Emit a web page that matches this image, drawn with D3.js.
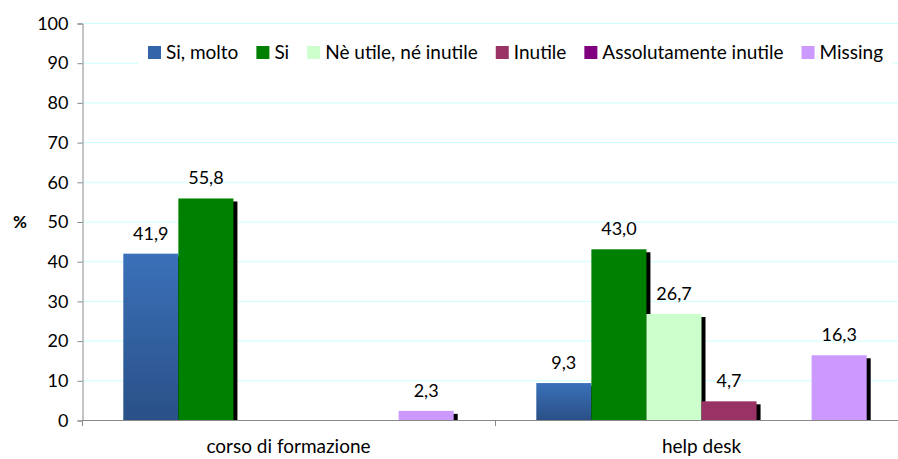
<!DOCTYPE html>
<html>
<head>
    <meta charset="utf-8">
    <title>Utilità: corso di formazione / help desk</title>
    <script src="https://d3js.org/d3.v7.min.js"></script>
    <style>
        body { margin: 0; background: #fff; }
        text { font-family: Lato, "Open Sans", sans-serif; fill: #000; }
    </style>
</head>
<body>
<svg width="898" height="459"></svg>
<script>
    // dati
    var categorie = ["corso di formazione", "help desk"];
    var serie = ["Si, molto", "Si", "Nè utile, né inutile", "Inutile", "Assolutamente inutile", "Missing"];
    var coloriSerie = ["url(#gradBlu)", "#008000", "#ccffcc", "#993366", "#800080", "#cc99ff"];
    var coloriLegenda = ["#3366a8", "#008000", "#ccffcc", "#993366", "#800080", "#cc99ff"];
    // valori per categoria (null = nessuna barra / etichetta)
    var valoriCorso = [41.9, 55.8, null, null, null, 2.3];
    var valoriHelpDesk = [9.3, 43.0, 26.7, 4.7, null, 16.3];
    var tickY = [0, 10, 20, 30, 40, 50, 60, 70, 80, 90, 100];

    var valori = [valoriCorso, valoriHelpDesk];

    var svg = d3.select("svg");
    var margine = { sinistro: 82, superiore: 23, inferiore: 420 };

    var defs = svg.append("defs");
    var g = defs.append("linearGradient").attr("id", "gradBlu")
        .attr("x1", 0).attr("y1", 0).attr("x2", 0).attr("y2", 1);
    g.append("stop").attr("offset", "0%").attr("stop-color", "#3a71b9");
    g.append("stop").attr("offset", "100%").attr("stop-color", "#2a5087");

    var scalaY = d3.scaleLinear().domain([0, 100]).range([margine.inferiore, margine.superiore]);
    var scalaX = d3.scaleBand().domain(categorie).range([margine.sinistro, 908]).padding(0);
    var scalaSerie = d3.scaleBand().domain(serie).range([0, scalaX.bandwidth()])
        .paddingInner(0).paddingOuter(0.75);

    // griglia
    svg.append("g").selectAll("line")
        .data(tickY.filter(function (d) { return d > 0; }))
        .enter().append("line")
        .attr("x1", margine.sinistro).attr("x2", 898)
        .attr("y1", function (d) { return scalaY(d) + 0.5; })
        .attr("y2", function (d) { return scalaY(d) + 0.5; })
        .attr("stroke", "#ccffff").attr("stroke-width", 1);

    // asse Y
    var asseY = svg.append("g")
        .attr("transform", "translate(" + (margine.sinistro + 0.5) + ",0.5)")
        .call(d3.axisLeft(scalaY).tickValues(tickY).tickSize(5).tickPadding(9));
    asseY.select(".domain").attr("stroke", "#888");
    asseY.selectAll(".tick line").attr("stroke", "#888");
    asseY.selectAll(".tick text").style("font-size", "18px").style("font-family", "Lato, sans-serif");

    svg.append("text")
        .attr("x", 20).attr("y", 228)
        .attr("text-anchor", "middle")
        .style("font-size", "17px").style("font-weight", "bold")
        .text("%");

    // barre
    var gruppi = svg.append("g").selectAll("g")
        .data(categorie)
        .enter().append("g")
        .attr("transform", function (d) { return "translate(" + scalaX(d) + ",0)"; });

    gruppi.each(function (cat, ci) {
        var gg = d3.select(this);
        var dati = serie.map(function (s, i) { return { serie: s, valore: valori[ci][i], i: i }; })
            .filter(function (d) { return d.valore !== null; });
        var w = scalaSerie.bandwidth();
        dati.forEach(function (d) {
            var x = scalaSerie(d.serie);
            var y = scalaY(d.valore);
            // ombra
            gg.append("rect")
                .attr("x", x + 4).attr("y", y + 3)
                .attr("width", w).attr("height", Math.max(0, margine.inferiore - y - 2))
                .attr("fill", "#000");
            gg.append("rect")
                .attr("x", x).attr("y", y)
                .attr("width", w).attr("height", margine.inferiore - y)
                .attr("fill", coloriSerie[d.i]);
        });
        dati.forEach(function (d) {
            gg.append("text")
                .attr("x", scalaSerie(d.serie) + scalaSerie.bandwidth() / 2)
                .attr("y", scalaY(d.valore) - 14)
                .attr("text-anchor", "middle")
                .style("font-size", "18px")
                .text(d.valore.toFixed(1).replace(".", ","));
        });
    });

    // asse X
    svg.append("line")
        .attr("x1", margine.sinistro).attr("x2", 898)
        .attr("y1", margine.inferiore + 0.5).attr("y2", margine.inferiore + 0.5)
        .attr("stroke", "#888");
    svg.append("g").selectAll("line")
        .data(categorie)
        .enter().append("line")
        .attr("x1", function (d) { return Math.round(scalaX(d)) + 0.5; })
        .attr("x2", function (d) { return Math.round(scalaX(d)) + 0.5; })
        .attr("y1", margine.inferiore).attr("y2", margine.inferiore + 6)
        .attr("stroke", "#888");
    svg.append("g").selectAll("text")
        .data(categorie)
        .enter().append("text")
        .attr("x", function (d) { return scalaX(d) + scalaX.bandwidth() / 2; })
        .attr("y", 453)
        .attr("text-anchor", "middle")
        .style("font-size", "19px")
        .text(function (d) { return d; });

    // legenda
    var legenda = svg.append("g");
    legenda.append("rect")
        .attr("x", 138).attr("y", 38).attr("width", 755).attr("height", 30)
        .attr("fill", "#fff");
    var xl = 148;
    serie.forEach(function (s, i) {
        legenda.append("rect")
            .attr("x", xl).attr("y", 46).attr("width", 13).attr("height", 13)
            .attr("fill", coloriLegenda[i]);
        var t = legenda.append("text")
            .attr("x", xl + 18).attr("y", 59)
            .style("font-size", "19px")
            .text(s);
        xl += 18 + t.node().getComputedTextLength() + 18;
    });
</script>
</body>
</html>
